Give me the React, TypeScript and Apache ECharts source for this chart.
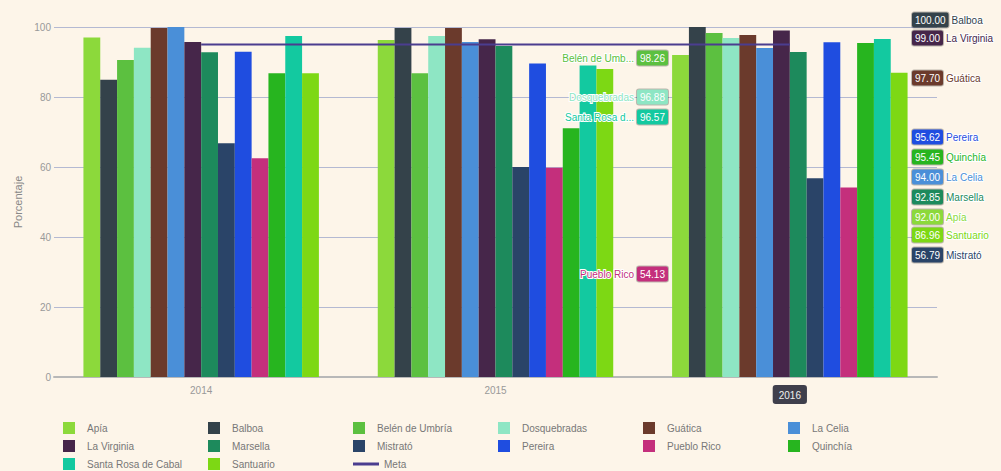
import React, { useEffect, useRef } from "react";
import * as echarts from "echarts";

const CATEGORIES = ["2014", "2015", "2016"];

const MUNICIPIOS = [
  "Apía",
  "Balboa",
  "Belén de Umbría",
  "Dosquebradas",
  "Guática",
  "La Celia",
  "La Virginia",
  "Marsella",
  "Mistrató",
  "Pereira",
  "Pueblo Rico",
  "Quinchía",
  "Santa Rosa de Cabal",
  "Santuario",
];

const VALUES_2014 = [97.0, 84.9, 90.6, 94.1, 99.7, 100.0, 95.7, 92.8, 66.8, 92.9, 62.5, 86.8, 97.4, 86.8];
const VALUES_2015 = [96.3, 99.7, 86.8, 97.4, 99.7, 95.7, 96.5, 94.6, 60.0, 89.6, 59.8, 71.1, 89.0, 88.0];
const VALUES_2016 = [92.0, 100.0, 98.26, 96.88, 97.7, 94.0, 99.0, 92.85, 56.79, 95.62, 54.13, 95.45, 96.57, 86.96];

const META = [95, 95, 95];

const COLORS = [
  "#8cd93b",
  "#34424a",
  "#5cc040",
  "#8ee6c4",
  "#6b3a2c",
  "#4a8fd8",
  "#46264a",
  "#1d8a5c",
  "#2a4468",
  "#1f4de0",
  "#c42f7c",
  "#27b51f",
  "#13c9a0",
  "#7dd814",
];
const META_COLOR = "#4b3d8f";

// label placement for the 2016 labels: side and vertical position (px)
const LABEL_SLOTS: Record<string, [string, number]> = {
  "Apía": ["right", 217],
  "Balboa": ["right", 20],
  "Belén de Umbría": ["left", 58],
  "Dosquebradas": ["left", 97],
  "Guática": ["right", 78],
  "La Celia": ["right", 177],
  "La Virginia": ["right", 38],
  "Marsella": ["right", 197],
  "Mistrató": ["right", 255],
  "Pereira": ["right", 137],
  "Pueblo Rico": ["left", 274],
  "Quinchía": ["right", 157],
  "Santa Rosa de Cabal": ["left", 117],
  "Santuario": ["right", 235],
};

function truncate(s: string) {
  return s.length > 12 ? s.slice(0, 12) + "..." : s;
}

export default function App() {
  const ref = useRef<HTMLDivElement>(null);

  useEffect(() => {
    if (!ref.current) return;
    const chart = echarts.init(ref.current, undefined, { renderer: "svg" });

    const barSeries = MUNICIPIOS.map((name, i) => {
      const [side, y] = LABEL_SLOTS[name];
      const color = COLORS[i];
      const rich = {
        v: {
          backgroundColor: color,
          color: "#fff",
          fontSize: 10,
          padding: [3, 3, 2, 3],
          borderRadius: 2,
          borderColor: "rgba(0,0,0,0.25)",
          borderWidth: 1,
        },
        n: {
          color: color,
          fontSize: 10,
          textBorderColor: "#ffffff",
          textBorderWidth: 2,
          padding: [0, 3, 0, 3],
        },
      };
      return {
        name,
        type: "bar",
        barGap: "0%",
        barCategoryGap: "20%",
        itemStyle: { color },
        data: [
          VALUES_2014[i],
          VALUES_2015[i],
          {
            value: VALUES_2016[i],
            label: {
              show: true,
              position: "top",
              formatter: (p: any) => {
                const v = Number(p.value).toFixed(2);
                return side === "right"
                  ? `{v|${v}}{n|${truncate(name)}}`
                  : `{n|${truncate(name)}}{v|${v}}`;
              },
              rich,
            },
          },
        ],
        labelLayout: () => ({
          x: side === "right" ? 912 : 668,
          y,
          align: side === "right" ? "left" : "right",
          verticalAlign: "middle",
        }),
        z: 2,
      };
    });

    const legendData: any[] = MUNICIPIOS.map((name) => ({
      name,
      icon: "path://M0 0H12V12H0Z",
    }));
    legendData.push({ name: "Meta", icon: "path://M0 0H26V3H0Z" });

    chart.setOption({
      animation: false,
      backgroundColor: "#fdf5e9",
      textStyle: { fontFamily: "Liberation Sans, Arial, sans-serif" },
      grid: { left: 54, right: 64, top: 27, bottom: 94 },
      legend: {
        data: legendData,
        left: 58,
        top: 417,
        width: 900,
        itemWidth: 26,
        itemHeight: 12,
        itemGap: 6,
        textStyle: {
          color: "#777",
          fontSize: 10,
          width: 115,
          overflow: "truncate",
          lineHeight: 12,
        },
      },
      xAxis: {
        type: "category",
        data: CATEGORIES,
        axisLine: { lineStyle: { color: "#b8b8b8", width: 2 } },
        axisTick: { show: false },
        axisLabel: {
          color: "#999",
          fontSize: 10,
          margin: 8,
          formatter: (v: string, idx: number) =>
            idx === CATEGORIES.length - 1 ? `{hl|${v}}` : v,
          rich: {
            hl: {
              backgroundColor: "#3f3f4c",
              color: "#eee",
              fontSize: 10,
              padding: [5, 6, 4, 6],
              borderRadius: 3,
            },
          },
        },
      },
      yAxis: {
        type: "value",
        min: 0,
        max: 100,
        interval: 20,
        name: "Porcentaje",
        nameLocation: "middle",
        nameGap: 31,
        nameTextStyle: { color: "#888", fontSize: 11 },
        axisLine: { show: false },
        axisTick: { show: false },
        axisLabel: { color: "#999", fontSize: 10, margin: 3 },
        splitLine: { lineStyle: { color: "#b4b9d2", width: 1 } },
      },
      series: [
        ...barSeries,
        {
          name: "Meta",
          type: "line",
          data: META,
          showSymbol: false,
          symbol: "none",
          lineStyle: { color: META_COLOR, width: 2 },
          itemStyle: { color: META_COLOR },
          z: 5,
        },
      ],
    });

    return () => chart.dispose();
  }, []);

  return (
    <div
      ref={ref}
      style={{ position: "fixed", left: 0, top: 0, width: 1001, height: 471 }}
    />
  );
}
